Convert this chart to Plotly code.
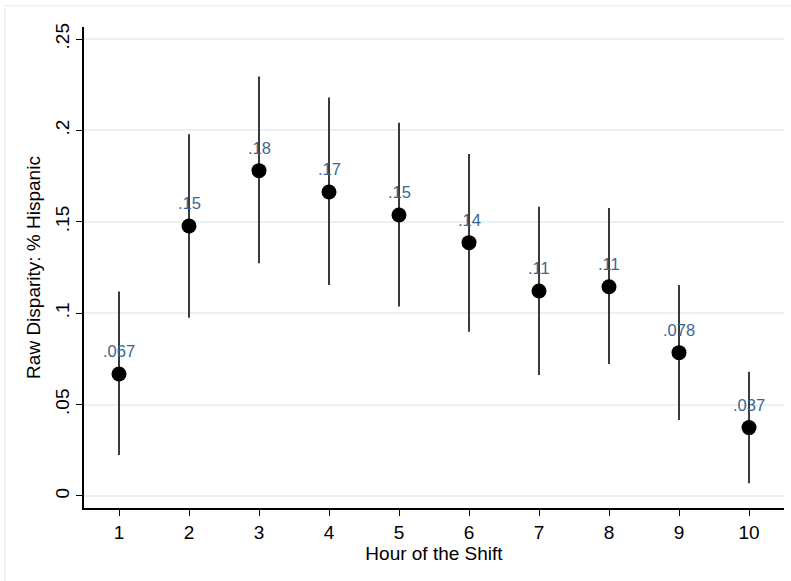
import plotly.graph_objects as go

# Hour of the shift and estimated raw disparity with 95% CI bounds
hours = [1, 2, 3, 4, 5, 6, 7, 8, 9, 10]
estimate = [0.0667, 0.1477, 0.1780, 0.1663, 0.1537, 0.1386, 0.1121, 0.1145, 0.0784, 0.0374]
ci_upper = [0.1118, 0.1979, 0.2295, 0.2180, 0.2042, 0.1871, 0.1583, 0.1575, 0.1154, 0.0680]
ci_lower = [0.0224, 0.0975, 0.1273, 0.1154, 0.1036, 0.0899, 0.0662, 0.0722, 0.0416, 0.0069]
y_ticks = [0, 0.05, 0.10, 0.15, 0.20, 0.25]
y_tick_text = ["0", ".05", ".1", ".15", ".2", ".25"]


def stata_label(v):
    s = f"{v:.2g}"
    return s[1:] if s.startswith("0.") else s


labels = [stata_label(v) for v in estimate]
err_plus = [u - e for u, e in zip(ci_upper, estimate)]
err_minus = [e - l for e, l in zip(estimate, ci_lower)]

FONT = "Liberation Sans, Arial, Helvetica, sans-serif"

fig = go.Figure()

fig.add_trace(go.Scatter(
    x=hours,
    y=estimate,
    mode="markers",
    marker=dict(color="black", size=15, line=dict(width=0)),
    error_y=dict(
        type="data",
        symmetric=False,
        array=err_plus,
        arrayminus=err_minus,
        color="#3a3a3a",
        thickness=2,
        width=0,
    ),
    showlegend=False,
))

# value labels above each marker
for h, e, lab in zip(hours, estimate, labels):
    fig.add_annotation(
        x=h, y=e, text=lab, showarrow=False,
        yanchor="middle", xanchor="center", yshift=23,
        font=dict(family=FONT, size=16.5, color="#3b6591"),
    )

fig.update_layout(
    width=791,
    height=581,
    margin=dict(l=84, r=7, t=27, b=73),
    paper_bgcolor="white",
    plot_bgcolor="white",
    font=dict(family=FONT, size=19, color="black"),
    xaxis=dict(
        range=[0.5, 10.5],
        tickmode="array",
        tickvals=hours,
        ticktext=[str(h) for h in hours],
        ticks="outside",
        ticklen=6,
        tickwidth=1.2,
        tickcolor="black",
        showline=True,
        linecolor="black",
        linewidth=1.5,
        showgrid=False,
        zeroline=False,
        tickfont=dict(size=19),
        title=dict(text="Hour of the Shift", font=dict(size=19), standoff=3),
    ),
    yaxis=dict(
        range=[-0.0066, 0.2566],
        tickmode="array",
        tickvals=y_ticks,
        ticktext=y_tick_text,
        tickangle=-90,
        ticks="outside",
        ticklen=6,
        tickwidth=1.2,
        tickcolor="black",
        showline=True,
        linecolor="black",
        linewidth=1.5,
        showgrid=True,
        gridcolor="#e9f1f2",
        gridwidth=1.5,
        zeroline=False,
        tickfont=dict(size=19),
        title=dict(text="Raw Disparity: % Hispanic", font=dict(size=19), standoff=6),
    ),
)

# faint outer frame of the graph region
fig.add_shape(type="line", xref="paper", yref="paper",
              x0=-0.113, x1=1.02, y0=1.044, y1=1.044,
              line=dict(color="#f0f0f0", width=1.5))
fig.add_shape(type="line", xref="paper", yref="paper",
              x0=-0.113, x1=-0.113, y0=1.044, y1=-0.16,
              line=dict(color="#f0f0f0", width=1.5))

fig.write_html("out.html")
